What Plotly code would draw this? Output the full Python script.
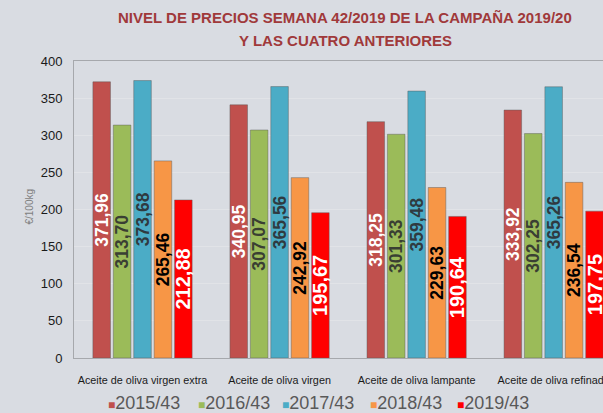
import plotly.graph_objects as go

categories = ["Aceite de oliva virgen extra", "Aceite de oliva virgen",
              "Aceite de oliva lampante", "Aceite de oliva refinado"]
series_names = ["2015/43", "2016/43", "2017/43", "2018/43", "2019/43"]
v2015 = [371.96, 340.95, 318.25, 333.92]
v2016 = [313.70, 307.07, 301.33, 302.25]
v2017 = [373.68, 365.56, 359.48, 365.26]
v2018 = [265.46, 242.92, 229.63, 236.54]
v2019 = [212.88, 195.67, 190.64, 197.75]
y_ticks = [0, 50, 100, 150, 200, 250, 300, 350, 400]

values = [v2015, v2016, v2017, v2018, v2019]
colors = ["#C0504D", "#9BBB59", "#4BACC6", "#F79646", "#FF0000"]
text_colors = ["#FFFFFF", "#3A3F33", "#2F3A40", "#000000", "#FFFFFF"]
text_sizes = [17.5, 17.5, 17.5, 17.5, 20]
legend_px = [106, 196, 280, 368, 455]   # left edge of each legend entry (px)

FONT = "Liberation Sans, Arial, sans-serif"
BG = "#D9DCE2"
L, T, B, W, H = 74, 61, 55, 603, 413
PW = W - L

fig = go.Figure()
for name, vals, col, tcol, tsz in zip(series_names, values, colors, text_colors, text_sizes):
    fig.add_trace(go.Bar(
        name=name, x=categories, y=vals,
        marker=dict(color=col, line=dict(color="rgba(90,90,90,0.45)", width=1)),
        text=[f"{v:.2f}".replace(".", ",") for v in vals],
        textposition="inside", insidetextanchor="middle", textangle=-90,
        constraintext="none",
        textfont=dict(family=FONT, size=tsz, color=tcol, weight="bold"),
        hoverinfo="skip", showlegend=False,
    ))

annotations = [
    dict(text="NIVEL DE PRECIOS SEMANA 42/2019 DE LA CAMPAÑA 2019/20",
         xref="paper", yref="paper", x=(345 - L) / PW, y=1, yshift=44,
         xanchor="center", yanchor="middle", showarrow=False,
         font=dict(family=FONT, size=15, color="#A0393A", weight="bold")),
    dict(text="Y LAS CUATRO ANTERIORES",
         xref="paper", yref="paper", x=(345 - L) / PW, y=1, yshift=21,
         xanchor="center", yanchor="middle", showarrow=False,
         font=dict(family=FONT, size=15, color="#A0393A", weight="bold")),
    dict(text="€/100kg", xref="paper", yref="paper", x=0, xshift=-44, y=0.51,
         xanchor="center", yanchor="middle", textangle=-90, showarrow=False,
         font=dict(family=FONT, size=10, color="#7F7F7F")),
]
# legend entries (coloured square + series name)
for name, col, px in zip(series_names, colors, legend_px):
    annotations.append(dict(
        text=f'<span style="color:{col};font-size:12px">■</span>{name}',
        xref="paper", yref="paper", x=(px - L) / PW, y=0, yshift=-(403 - (H - B)),
        xanchor="left", yanchor="middle", showarrow=False,
        font=dict(family=FONT, size=18, color="#595959")))

fig.update_layout(
    width=W, height=H,
    paper_bgcolor=BG, plot_bgcolor=BG,
    margin=dict(l=L, r=0, t=T, b=B, autoexpand=False),
    barmode="group", bargap=0.255, bargroupgap=0.14,
    showlegend=False,
    xaxis=dict(range=[-0.5, 3.36], showline=True, linecolor="#A6A8AC", linewidth=1,
               mirror=True, showgrid=False, ticks="", ticklabelstandoff=12,
               tickfont=dict(family=FONT, size=10.8, color="#1A1A1A")),
    yaxis=dict(range=[0, 400], tickvals=y_ticks, showline=True, linecolor="#A6A8AC",
               linewidth=1, gridcolor="#E1E3E7", zeroline=False, ticks="",
               ticklabelstandoff=8,
               tickfont=dict(family=FONT, size=13, color="#1A1A1A")),
    annotations=annotations,
)

fig.write_html(
    "out.html",
    config={"displayModeBar": False},
    post_script="document.body.style.margin='0';document.body.style.background='%s';" % BG,
)
